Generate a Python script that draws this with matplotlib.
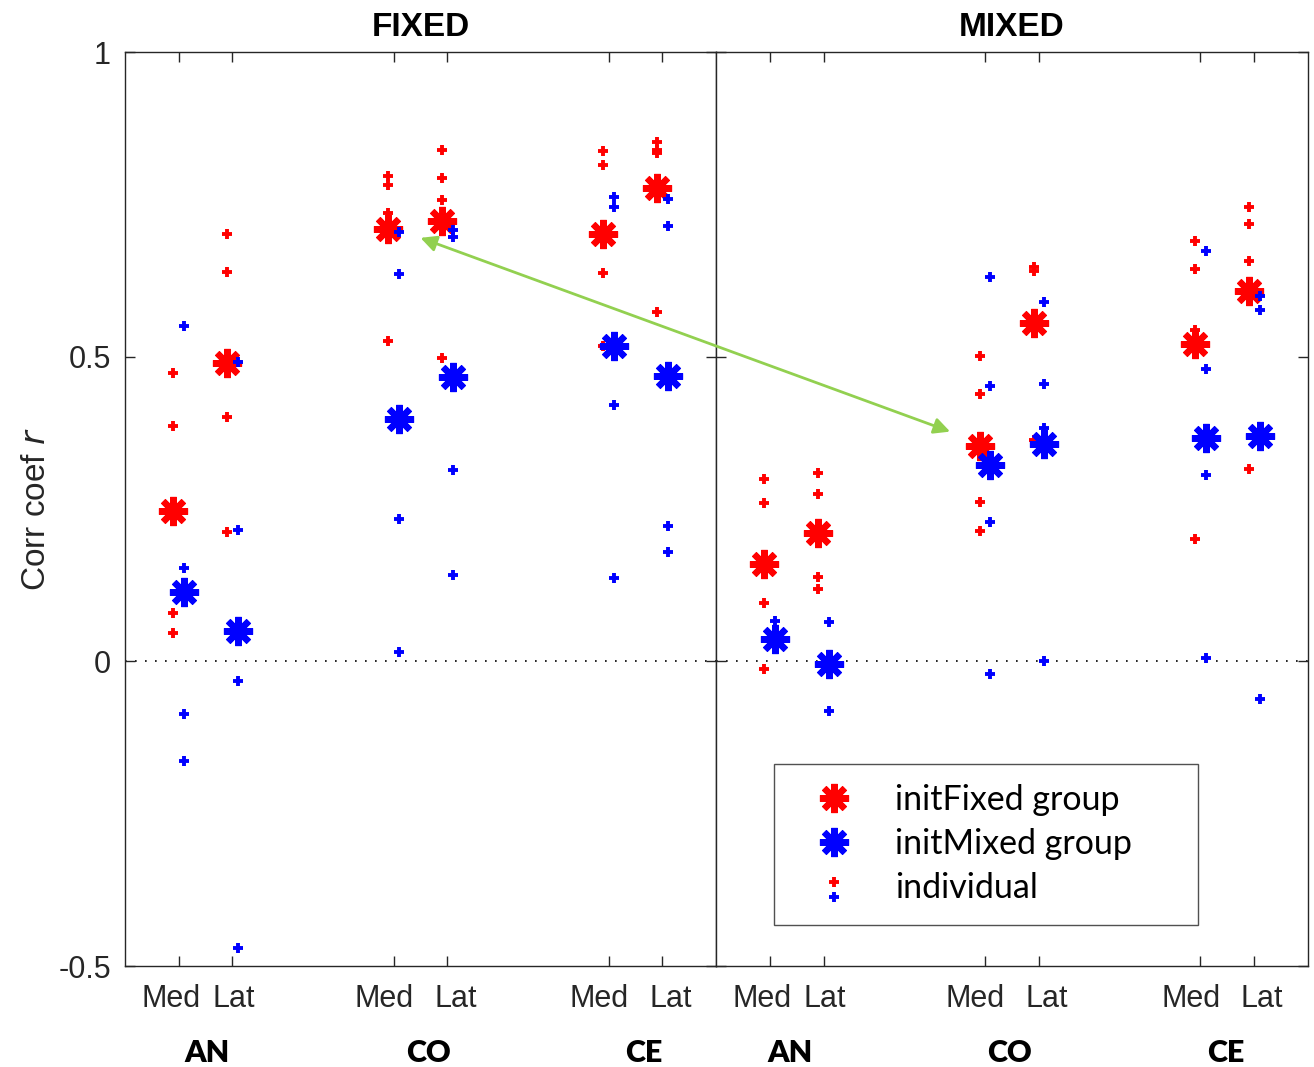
import matplotlib
matplotlib.use("Agg")
import matplotlib.pyplot as plt
from matplotlib.lines import Line2D
from matplotlib.legend_handler import HandlerBase
from matplotlib.patches import ConnectionPatch
from matplotlib.transforms import ScaledTranslation

# ---------------- data ----------------
panels = ["FIXED", "MIXED"]
regions = ["AN", "CO", "CE"]
sides = ["Med", "Lat"]
positions = [1, 2, 5, 6, 9, 10]
tick_labels = ["Med", "Lat", "Med", "Lat", "Med", "Lat"]

# group means (order: AN Med, AN Lat, CO Med, CO Lat, CE Med, CE Lat)
initfixed_group_FIXED = [0.247, 0.489, 0.710, 0.722, 0.702, 0.776]
initmixed_group_FIXED = [0.113, 0.050, 0.398, 0.466, 0.517, 0.468]
initfixed_group_MIXED = [0.160, 0.210, 0.354, 0.556, 0.520, 0.608]
initmixed_group_MIXED = [0.036, -0.005, 0.323, 0.357, 0.366, 0.369]

# individuals
initfixed_indiv_FIXED = [
    [0.474, 0.386, 0.079, 0.046],
    [0.702, 0.639, 0.401, 0.213],
    [0.797, 0.781, 0.735, 0.526],
    [0.839, 0.793, 0.757, 0.497],
    [0.838, 0.814, 0.637, 0.518],
    [0.853, 0.839, 0.834, 0.573],
]
initmixed_indiv_FIXED = [
    [0.551, 0.153, -0.087, -0.163],
    [0.492, 0.216, -0.033, -0.471],
    [0.705, 0.636, 0.234, 0.016],
    [0.708, 0.697, 0.314, 0.142],
    [0.762, 0.746, 0.420, 0.136],
    [0.758, 0.714, 0.222, 0.179],
]
initfixed_indiv_MIXED = [
    [0.299, 0.260, 0.095, -0.013],
    [0.309, 0.275, 0.139, 0.119],
    [0.501, 0.439, 0.261, 0.214],
    [0.647, 0.641, 0.363],
    [0.690, 0.644, 0.543, 0.200],
    [0.745, 0.718, 0.657, 0.315],
]
initmixed_indiv_MIXED = [
    [0.067],
    [0.064, -0.081],
    [0.630, 0.452, 0.229, -0.021],
    [0.590, 0.455, 0.383, 0.001],
    [0.674, 0.479, 0.305, 0.006],
    [0.599, 0.576, -0.062],
]

# arrow end points (data coords in each panel)
arrow_start = (5.5, 0.695)   # FIXED panel
arrow_end = (4.35, 0.377)    # MIXED panel

# ---------------- style ----------------
RED = "#FF0000"
BLUE = "#0000FF"
AXC = "#262626"
BIG = dict(marker=(8, 2, 0), ms=21, mew=4.6, ls="none")
SMALL = dict(marker="+", ms=7, mew=2.8, ls="none")
OFF = 0.1
# horizontal nudges of region labels (data units), per panel
region_nudge = [[0.02, 0.14, 0.15], [-0.13, -0.04, -0.02]]
# horizontal pixel nudges of the Med/Lat tick labels
label_nudge_px = [-8, 1, -10, 8, -9, 8]

fig = plt.figure(figsize=(13.14, 10.67), dpi=100)
W, H = 1314, 1067
ax1 = fig.add_axes([125 / W, (H - 966) / H, 591 / W, 914 / H])
ax2 = fig.add_axes([716 / W, (H - 966) / H, 592 / W, 914 / H])

data = [
    (initfixed_group_FIXED, initmixed_group_FIXED, initfixed_indiv_FIXED, initmixed_indiv_FIXED),
    (initfixed_group_MIXED, initmixed_group_MIXED, initfixed_indiv_MIXED, initmixed_indiv_MIXED),
]

tick_font = dict(family="Liberation Sans", size=22, color=AXC)

for k, (ax, title, (gf, gm, inf, inm)) in enumerate(zip([ax1, ax2], panels, data)):
    ax.set_xlim(0, 11)
    ax.set_ylim(-0.5, 1)
    ax.axhline(0, color="black", lw=1.2, ls=(0, (1, 5)), zorder=1)
    # red individuals, red group, blue individuals, blue group
    for p, vals in zip(positions, inf):
        ax.plot([p - OFF] * len(vals), vals, color=RED, zorder=3, **SMALL)
    ax.plot([p - OFF for p in positions], gf, color=RED, zorder=4, **BIG)
    for p, vals in zip(positions, inm):
        ax.plot([p + OFF] * len(vals), vals, color=BLUE, zorder=5, **SMALL)
    ax.plot([p + OFF for p in positions], gm, color=BLUE, zorder=6, **BIG)

    ax.set_xticks(positions)
    ax.set_yticks([-0.5, 0, 0.5, 1])
    ax.tick_params(direction="in", top=True, right=True, length=7, width=1,
                   color=AXC)
    ax.tick_params(axis="x", pad=13)
    ax.tick_params(axis="y", pad=10)
    ax.set_xticklabels(tick_labels, fontdict=tick_font)
    for lab, dx in zip(ax.get_xticklabels(), label_nudge_px):
        lab.set_transform(lab.get_transform() +
                          ScaledTranslation(dx / 100, 0, fig.dpi_scale_trans))
    for s in ax.spines.values():
        s.set_color(AXC)
        s.set_linewidth(1)
    ax.text(0.5, 1.027, title, transform=ax.transAxes, ha="center", va="center",
            family="Liberation Sans", weight="bold", size=24, color="black")
    tr = ax.get_xaxis_transform()
    for i, r in enumerate(regions):
        xm = (positions[2 * i] + positions[2 * i + 1]) / 2
        ax.text(xm + region_nudge[k][i], -0.095, r, transform=tr, ha="center",
                va="center", family="Lato", weight="heavy", size=22, color="black")

ax1.set_yticklabels(["-0.5", "0", "0.5", "1"], fontdict=tick_font)
ax2.set_yticklabels([])
ax1.set_ylabel("Corr coef $\\mathit{r}$", family="Liberation Sans", size=24,
               color=AXC, labelpad=5)

# arrow spanning both panels
con = ConnectionPatch(xyA=arrow_start, coordsA=ax1.transData,
                      xyB=arrow_end, coordsB=ax2.transData,
                      arrowstyle="<|-|>", color="#92D050", lw=2,
                      mutation_scale=24, shrinkA=0, shrinkB=0, zorder=10)
fig.add_artist(con)


# legend with stacked individual markers
class StackedHandler(HandlerBase):
    def create_artists(self, legend, orig_handle, xdescent, ydescent,
                       width, height, fontsize, trans):
        cx = width / 2 - xdescent
        cy = height / 2 - ydescent - height * 0.12
        off = height * 0.33
        l1 = Line2D([cx], [cy + off], color=RED, transform=trans, **SMALL)
        l2 = Line2D([cx], [cy - off], color=BLUE, transform=trans, **SMALL)
        return [l1, l2]


h_red = Line2D([], [], color=RED, **BIG)
h_blue = Line2D([], [], color=BLUE, **BIG)
h_ind = ("individual",)
leg = ax2.legend([h_red, h_blue, h_ind],
                 ["initFixed group", "initMixed group", "individual"],
                 handler_map={tuple: StackedHandler()},
                 loc="lower left", bbox_to_anchor=(0.098, 0.045, 0.716, 0.2),
                 mode="expand",
                 borderaxespad=0, frameon=True, fancybox=False,
                 prop=dict(family="Lato", size=24.5),
                 handlelength=2.35, handletextpad=0.62, borderpad=0.6,
                 labelspacing=0.36)
leg.get_frame().set_edgecolor(AXC)
leg.get_frame().set_linewidth(1)
leg.set_zorder(20)

fig.savefig("out.png", dpi=100, facecolor="white")
